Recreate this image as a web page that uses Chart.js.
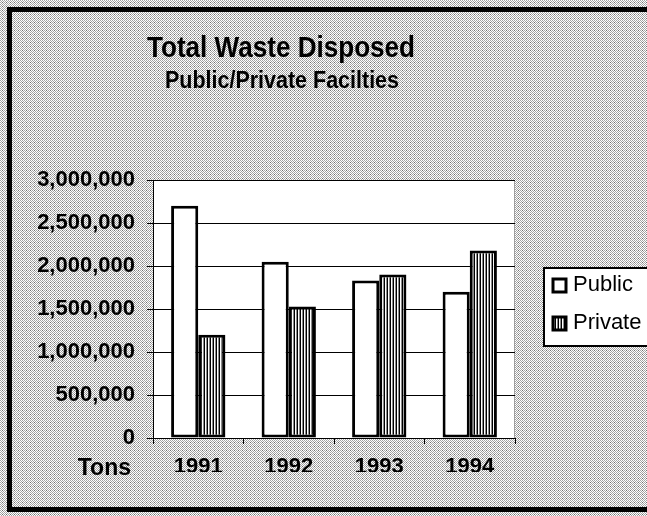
<!DOCTYPE html>
<html>
<head>
<meta charset="utf-8">
<script src="https://cdn.jsdelivr.net/npm/chart.js@4.4.0/dist/chart.umd.min.js"></script>
<style>
  html, body { margin: 0; padding: 0; background: #fff; }
  #wrap { width: 647px; height: 516px; }
</style>
</head>
<body>
<div id="wrap"><canvas id="wasteChart" width="647" height="516"></canvas></div>
<script>
// Chart data
const years = ["1991", "1992", "1993", "1994"];
const publicTons = [2700000, 2050000, 1830000, 1700000];
const privateTons = [1200000, 1530000, 1900000, 2180000];
const yTicks = [0, 500000, 1000000, 1500000, 2000000, 2500000, 3000000];

const FONT = "'Liberation Sans', Arial, sans-serif";

// Dithered gray background like the old print
function makeDither() {
    const c = document.createElement("canvas");
    c.width = 4; c.height = 4;
    const g = c.getContext("2d");
    g.fillStyle = "#ffffff";
    g.fillRect(0, 0, 4, 4);
    g.fillStyle = "#a4a4a4";
    [[0,0],[2,0],[1,1],[3,1],[0,2],[2,2],[1,3],[3,3]].forEach(p => g.fillRect(p[0], p[1], 1, 1));
    g.fillStyle = "#707070";
    g.fillRect(2, 2, 1, 1);
    return g.createPattern(c, "repeat");
}

// Vertical hatch for the Private bars
function makeHatch() {
    const c = document.createElement("canvas");
    c.width = 3; c.height = 3;
    const g = c.getContext("2d");
    g.fillStyle = "#000";
    g.fillRect(0, 0, 1, 3);
    g.fillStyle = "#ffffff";
    g.fillRect(1, 0, 1, 3);
    g.fillStyle = "#8c8c8c";
    g.fillRect(2, 0, 1, 3);
    return g.createPattern(c, "repeat");
}

const dither = makeDither();
const hatch = makeHatch();

// text squeezed to a given width, centred on x
function fitText(ctx, text, x, y, width) {
    const w = ctx.measureText(text).width;
    ctx.save();
    ctx.translate(x, y);
    ctx.scale(Math.min(1, width / w), 1);
    ctx.fillText(text, 0, 0);
    ctx.restore();
}

// Background, plot area fill, frame, titles, "Tons" and legend
const decorPlugin = {
    id: "decor",
    beforeDraw(chart) {
        const ctx = chart.ctx;
        const a = chart.chartArea;
        ctx.save();
        ctx.fillStyle = dither;
        ctx.fillRect(0, 0, chart.width, chart.height);
        ctx.fillStyle = "#ffffff";
        ctx.fillRect(a.left, a.top, a.right - a.left, a.bottom - a.top);
        ctx.strokeStyle = "#a0a0a0";
        ctx.lineWidth = 1;
        ctx.strokeRect(a.left + 0.5, a.top + 0.5, a.right - a.left - 1, a.bottom - a.top);
        ctx.restore();
    },
    afterDraw(chart) {
        const ctx = chart.ctx;
        ctx.save();
        // outer frame
        ctx.fillStyle = "#000";
        ctx.fillRect(7, 7, 640, 5);
        ctx.fillRect(7, 7, 5, 505);
        ctx.fillRect(7, 507, 640, 5);

        ctx.textAlign = "center";
        ctx.textBaseline = "alphabetic";
        ctx.fillStyle = "#000";
        ctx.font = "bold 30px " + FONT;
        fitText(ctx, "Total Waste Disposed", 281, 57, 268);
        ctx.font = "bold 24px " + FONT;
        fitText(ctx, "Public/Private Facilties", 282, 88, 234);

        ctx.font = "bold 23px " + FONT;
        ctx.textAlign = "right";
        ctx.fillText("Tons", 131, 475);

        // legend
        const lx = 544, ly = 268, lw = 110, lh = 78;
        ctx.fillStyle = "#fff";
        ctx.fillRect(lx, ly, lw, lh);
        ctx.strokeStyle = "#000";
        ctx.lineWidth = 2;
        ctx.strokeRect(lx, ly, lw, lh);
        const sets = chart.data.datasets;
        ctx.textAlign = "left";
        ctx.textBaseline = "alphabetic";
        ctx.font = "22px " + FONT;
        sets.forEach((ds, i) => {
            const base = ly + 23 + i * 38;
            ctx.fillStyle = ds.backgroundColor;
            ctx.fillRect(lx + 9, base - 12, 13, 13);
            ctx.strokeStyle = "#000";
            ctx.lineWidth = 3;
            ctx.strokeRect(lx + 9, base - 12, 13, 13);
            ctx.fillStyle = "#000";
            ctx.fillText(ds.label, lx + 29, base);
        });
        ctx.restore();
    }
};

const ctx = document.getElementById("wasteChart").getContext("2d");
const wasteChart = new Chart(ctx, {
    type: "bar",
    data: {
        labels: years,
        datasets: [
            {
                label: "Public",
                data: publicTons,
                backgroundColor: "#ffffff",
                borderColor: "#000",
                borderWidth: 3,
                borderSkipped: false
            },
            {
                label: "Private",
                data: privateTons,
                backgroundColor: hatch,
                borderColor: "#000",
                borderWidth: 3,
                borderSkipped: false
            }
        ]
    },
    options: {
        responsive: false,
        animation: false,
        layout: { padding: { left: 30, right: 132, top: 180, bottom: 44 } },
        plugins: {
            legend: { display: false },
            tooltip: { enabled: false }
        },
        datasets: {
            bar: { categoryPercentage: 0.6, barPercentage: 1.0 }
        },
        scales: {
            x: {
                grid: { drawOnChartArea: false, drawTicks: true, tickLength: 6, color: "#000", offset: true },
                border: { color: "#000", width: 1 },
                ticks: {
                    color: "#000",
                    font: { family: FONT, size: 22, weight: "bold" },
                    padding: 10
                },
                afterFit: (s) => { s.height = 34; }
            },
            y: {
                min: 0,
                max: 3000000,
                afterBuildTicks: (s) => { s.ticks = yTicks.map(v => ({ value: v })); },
                grid: { color: "#000", lineWidth: 1, drawTicks: true, tickLength: 6 },
                border: { color: "#000", width: 1 },
                ticks: {
                    color: "#000",
                    font: { family: FONT, size: 22, weight: "bold" },
                    padding: 12,
                    callback: (v) => v.toLocaleString("en-US")
                },
                afterFit: (s) => { s.width = 123; }
            }
        }
    },
    plugins: [decorPlugin]
});
</script>
</body>
</html>
